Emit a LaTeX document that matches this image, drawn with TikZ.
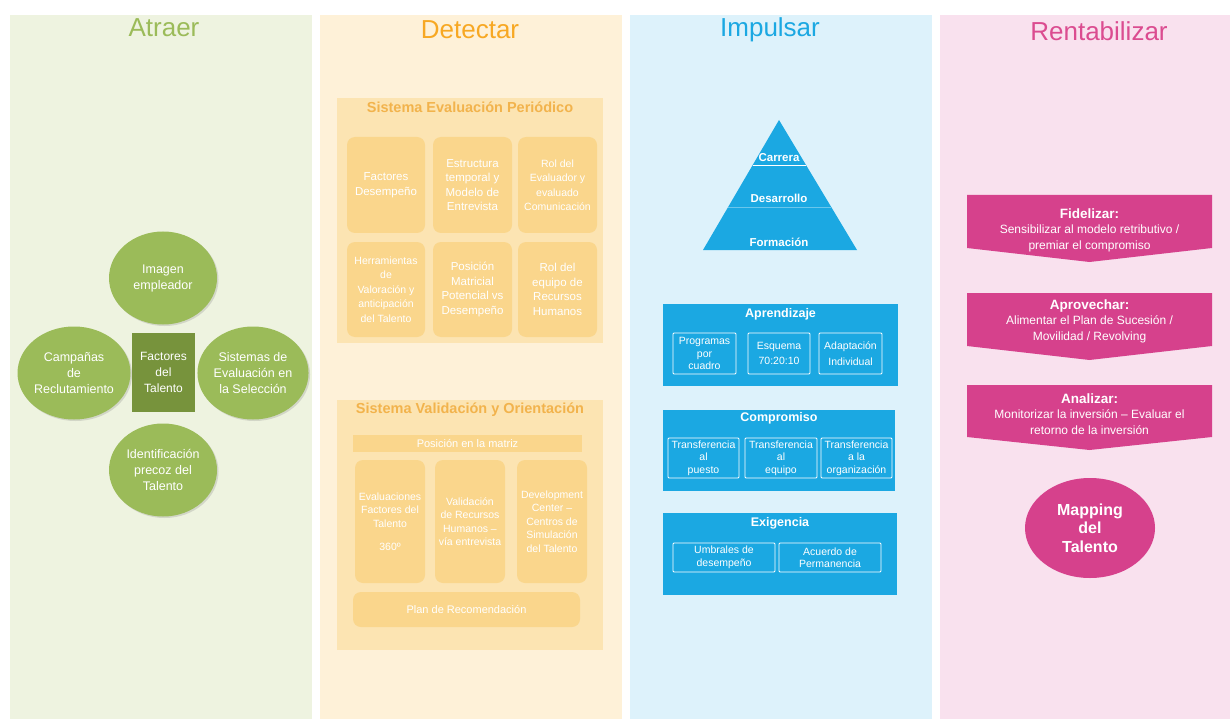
\documentclass[tikz,border=0pt]{standalone}
\usepackage{fontspec}
\setmainfont{Liberation Sans}
\usetikzlibrary{shapes.geometric,shadows}
\definecolor{grnbg}{HTML}{EEF3E0}
\definecolor{grn}{HTML}{9BBB59}
\definecolor{grndk}{HTML}{77933C}
\definecolor{detbg}{HTML}{FEF1D8}
\definecolor{detout}{HTML}{FCE4B2}
\definecolor{detin}{HTML}{FAD68C}
\definecolor{dettitle}{HTML}{F7A823}
\definecolor{detsub}{HTML}{F2B34C}
\definecolor{impbg}{HTML}{DDF2FB}
\definecolor{blu}{HTML}{1BA8E2}
\definecolor{renbg}{HTML}{F9E1EE}
\definecolor{pnk}{HTML}{D6418C}
\definecolor{pnktitle}{HTML}{DB4C90}
\newcommand{\rheadfont}{\bfseries\fontsize{13.5}{15.5}\selectfont}
\begin{document}
\begin{tikzpicture}[x=1pt,y=-1pt,
  coltitle/.style={anchor=base, font=\fontsize{26}{28}\selectfont},
  circ/.style={ellipse, fill=grn, text=white, minimum width=108pt, minimum height=93pt, align=center,
    inner sep=0pt, font=\fontsize{12.5}{16}\selectfont,
    drop shadow={shadow xshift=1.5pt, shadow yshift=-1.5pt, opacity=0.25}},
  detouter/.style={fill=detout, inner sep=0pt},
  detbox/.style={fill=detin, rounded corners=8pt, text=white, align=center, inner sep=0pt,
    font=\fontsize{11.5}{14.5}\selectfont},
  dethead/.style={text=detsub, font=\bfseries\fontsize{14.5}{16}\selectfont},
  bluebox/.style={fill=blu, inner sep=0pt},
  bluehead/.style={text=white, font=\bfseries\fontsize{12.5}{14}\selectfont},
  blueinner/.style={draw=white, line width=0.9pt, rounded corners=1pt, text=white, align=center,
    inner sep=0pt, font=\fontsize{10.5}{12.5}\selectfont},
  pyrlabel/.style={text=white, font=\bfseries\fontsize{11.5}{13}\selectfont},
  rtext/.style={text=white, align=center, font=\fontsize{12}{15.5}\selectfont},
]
\useasboundingbox (0,0) rectangle (1230,719);
\fill[white] (0,0) rectangle (1230,719);
% panels
\fill[grnbg] (10,15) rectangle (312,719);
\fill[detbg] (320,15) rectangle (622,719);
\fill[impbg] (630,15) rectangle (932,719);
\fill[renbg] (940,15) rectangle (1230,719);
% titles
\node[coltitle, text=grn] (tatraer) at (164,37) {Atraer};
\node[coltitle, text=dettitle] (tdetectar) at (470,39) {Detectar};
\node[coltitle, text=blu] (timpulsar) at (770,37) {Impulsar};
\node[coltitle, text=pnktitle] (trenta) at (1099,41) {Rentabilizar};

% ---------- Atraer ----------
\node[circ] (imagen) at (163,278) {Imagen\\empleador};
\node[circ] (campanas) at (74,373) {Campañas\\de\\Reclutamiento};
\node[circ] (sistemas) at (253,373) {Sistemas de\\Evaluación en\\la Selección};
\node[circ] (identif) at (163,470) {Identificación\\precoz del\\Talento};
\node[fill=grndk, text=white, align=center, minimum width=63pt, minimum height=79pt, inner sep=0pt,
  font=\fontsize{12}{16}\selectfont] (factores) at (163.5,372.5) {Factores\\del\\Talento};

% ---------- Detectar ----------
\node[detouter, minimum width=266pt, minimum height=245pt] (sep) at (470,220.5) {};
\node[dethead] (septitle) at (470,107) {Sistema Evaluación Periódico};
\node[detbox, minimum width=78pt, minimum height=96pt] (d11) at (386,185) {Factores\\Desempeño};
\node[detbox, minimum width=79pt, minimum height=96pt] (d12) at (472.5,185) {Estructura\\temporal y\\Modelo de\\Entrevista};
\node[detbox, minimum width=79pt, minimum height=96pt, font=\fontsize{10.5}{14.5}\selectfont] (d13) at (557.5,185) {Rol del\\Evaluador y\\evaluado\\Comunicación};
\node[detbox, minimum width=78pt, minimum height=95pt, font=\fontsize{10.5}{14.5}\selectfont] (d21) at (386,289.5) {Herramientas\\de\\Valoración y\\anticipación\\del Talento};
\node[detbox, minimum width=79pt, minimum height=95pt] (d22) at (472.5,289.5) {Posición\\Matricial\\Potencial vs\\Desempeño};
\node[detbox, minimum width=79pt, minimum height=95pt] (d23) at (557.5,289.5) {Rol del\\equipo de\\Recursos\\Humanos};

\node[detouter, minimum width=266pt, minimum height=250pt] (svo) at (470,525) {};
\node[dethead] (svotitle) at (470,410) {Sistema Validación y Orientación};
\node[fill=detin, text=white, minimum width=229pt, minimum height=17pt, inner sep=0pt,
  font=\fontsize{11}{12}\selectfont] (posicion) at (467.5,443.5) {Posición en la matriz};
\node[detbox, minimum width=70pt, minimum height=123pt, font=\fontsize{10.5}{13.5}\selectfont] (v1) at (390,521.5) {Evaluaciones\\Factores del\\Talento\\[10pt]360º};
\node[detbox, minimum width=70pt, minimum height=123pt, font=\fontsize{10.5}{13.5}\selectfont] (v2) at (470,521.5) {Validación\\de Recursos\\Humanos –\\vía entrevista};
\node[detbox, minimum width=70pt, minimum height=123pt, font=\fontsize{10.5}{13.5}\selectfont] (v3) at (552,521.5) {Development\\Center –\\Centros de\\Simulación\\del Talento};
\node[detbox, minimum width=227pt, minimum height=35pt, font=\fontsize{11}{13}\selectfont] (plan) at (466.5,609.5) {Plan de Recomendación};

% ---------- Impulsar ----------
\fill[blu] (779,120) -- (857,250) -- (703,250) -- cycle;
\draw[white, line width=0.9pt] (752.5,165) -- (805.5,165);
\draw[white, opacity=0.35, line width=0.6pt] (727.5,207) -- (830.5,207);
\node[pyrlabel] (carrera) at (779,158) {Carrera};
\node[pyrlabel] (desarrollo) at (779,198) {Desarrollo};
\node[pyrlabel] (formacion) at (779,242) {Formación};

\node[bluebox, minimum width=235pt, minimum height=82pt] (aprend) at (780.5,345) {};
\node[bluehead] (aprendt) at (780.5,314) {Aprendizaje};
\node[blueinner, minimum width=63pt, minimum height=41pt] (a1) at (704.5,353.5) {Programas\\por\\cuadro};
\node[blueinner, minimum width=62pt, minimum height=41pt] (a2) at (779,353.5) {Esquema\\[3pt]70:20:10};
\node[blueinner, minimum width=63pt, minimum height=41pt] (a3) at (850.5,353.5) {Adaptación\\[3pt]Individual};

\node[bluebox, minimum width=232pt, minimum height=81pt] (compro) at (779,450.5) {};
\node[bluehead] (comprot) at (779,418) {Compromiso};
\node[blueinner, minimum width=71pt, minimum height=40pt] (c1) at (703.5,458) {Transferencia\\al\\puesto};
\node[blueinner, minimum width=72pt, minimum height=40pt] (c2) at (781,458) {Transferencia\\al\\equipo};
\node[blueinner, minimum width=71pt, minimum height=40pt] (c3) at (856.5,458) {Transferencia\\a la\\organización};

\node[bluebox, minimum width=234pt, minimum height=82pt] (exig) at (780,554) {};
\node[bluehead] (exigt) at (780,523) {Exigencia};
\node[blueinner, minimum width=102pt, minimum height=29pt] (e1) at (724,557.5) {Umbrales de\\desempeño};
\node[blueinner, minimum width=102pt, minimum height=29pt] (e2) at (830,557.5) {Acuerdo de\\Permanencia};

% ---------- Rentabilizar ----------
\fill[pnk] (967,195) -- (1212,195) -- (1212,248) -- (1089.5,262) -- (967,248) -- cycle;
\node[rtext] (fidelizar) at (1089.5,230) {{\rheadfont Fidelizar:}\\Sensibilizar al modelo retributivo /\\premiar el compromiso};
\fill[pnk] (967,293) -- (1212,293) -- (1212,346) -- (1089.5,360) -- (967,346) -- cycle;
\node[rtext] (aprovechar) at (1089.5,321) {{\rheadfont Aprovechar:}\\Alimentar el Plan de Sucesión /\\Movilidad / Revolving};
\fill[pnk] (967,385) -- (1212,385) -- (1212,437) -- (1089.5,450) -- (967,437) -- cycle;
\node[rtext] (analizar) at (1089.5,414) {{\rheadfont Analizar:}\\Monitorizar la inversión – Evaluar el\\retorno de la inversión};
\node[ellipse, fill=pnk, text=white, align=center, minimum width=130pt, minimum height=100pt, inner sep=0pt,
  font=\bfseries\fontsize{16}{18.5}\selectfont] (mapping) at (1090,528) {Mapping\\del\\Talento};
\end{tikzpicture}
\end{document}
